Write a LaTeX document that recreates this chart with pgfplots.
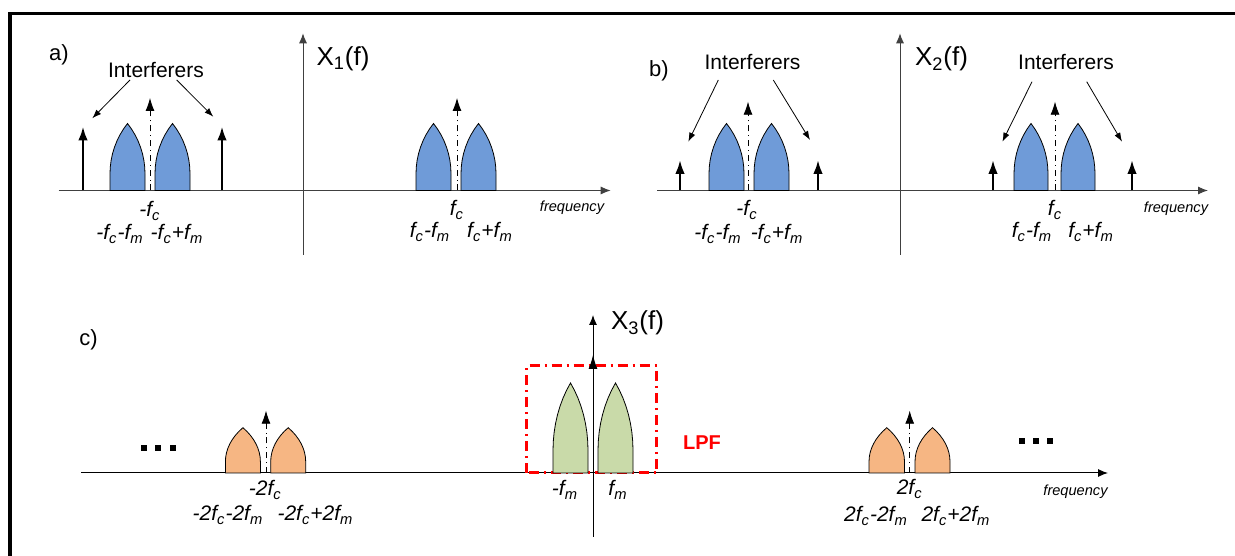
\documentclass[border=0pt]{standalone}
\usepackage{pgfplots}
\pgfplotsset{compat=1.18}
\usepackage{pgfplotstable}
\usepackage{fontspec}
\setmainfont{Liberation Sans}
\usetikzlibrary{arrows.meta}

\definecolor{lobeblue}{HTML}{6F9BD8}
\definecolor{lobeorange}{HTML}{F6B683}
\definecolor{lobegreen}{HTML}{C9DAA9}

% one spectral lobe (bullet shape), width 1, height 1
\pgfplotstableread{
x y
0 0
0 0.25
0.0081 0.3511
0.0324 0.4515
0.0726 0.5504
0.1286 0.6472
0.1999 0.7413
0.2860 0.8319
0.3863 0.9184
0.5 1
0.6137 0.9184
0.7140 0.8319
0.8001 0.7413
0.8714 0.6472
0.9274 0.5504
0.9676 0.4515
0.9919 0.3511
1 0.25
1 0
}\lobeshape

\newcommand{\lab}{\fontsize{10.5}{12}\selectfont}
\newcommand{\lobe}[4]{% colour, left edge, width, height
  \addplot[fill=#1, draw=black, line width=0.4pt]
    table[x expr={#2+#3*\thisrow{x}}, y expr={#4*\thisrow{y}}] {\lobeshape} -- cycle;}
\newcommand{\carrier}[2]{%
  \addplot[black, line width=0.4pt, dash dot, -{Latex[length=6.5pt,width=4.5pt]}]
    coordinates {(#1,0) (#1,#2)};}
\newcommand{\tone}[2]{%
  \addplot[black, line width=1.2pt, -{Latex[length=7pt,width=4.8pt]}]
    coordinates {(#1,0) (#1,#2)};}
\newcommand{\pointer}[4]{%
  \addplot[black, line width=0.4pt, -{Latex[length=4.5pt,width=3.2pt]}]
    coordinates {(#1,#2) (#3,#4)};}

\pgfplotsset{panel/.style={
  x=0.5pt, y=0.5pt, anchor=origin,
  axis lines=middle, ticks=none, clip=false,
  axis line style={line width=0.5pt, -{Latex[length=5pt,width=4pt]}},
}}

\begin{document}
\begin{tikzpicture}
\useasboundingbox (0,0) rectangle (617.5pt,278pt);
\draw[line width=1.6pt] (5pt,0pt) -- (5pt,271.2pt) -- (617.5pt,271.2pt);

% ---------- a)
\begin{axis}[panel, at={(151.5pt,182.75pt)},
  xmin=-244.5, xmax=307.7, ymin=-64.5, ymax=157.2,
  axis line style={black!75}]
\lobe{lobeblue}{-193}{35}{67}
\lobe{lobeblue}{-148}{35}{67}
\lobe{lobeblue}{113}{35}{67}
\lobe{lobeblue}{158}{35}{67}
\carrier{-153}{92.5}
\carrier{154}{92.5}
\tone{-220}{64}
\tone{-81}{64}
\pointer{-173}{110.5}{-210.7}{72.2}
\pointer{-126.3}{110.5}{-89.7}{73.8}
\node[font=\fontsize{11}{13}\selectfont] at (-244,135.5) {a)};
\node[font=\lab] at (-147,120.5) {Interferers};
\node[font=\fontsize{13}{15}\selectfont] at (40,131.5) {X\textsubscript{1}(f)};
\node[font=\lab] at (-153,-20.5) {\textit{-f\textsubscript{c}}};
\node[font=\lab] at (-183,-43.5) {\textit{-f\textsubscript{c}-f\textsubscript{m}}};
\node[font=\lab] at (-126,-43.5) {\textit{-f\textsubscript{c}+f\textsubscript{m}}};
\node[font=\lab] at (154,-19.5) {\textit{f\textsubscript{c}}};
\node[font=\lab] at (127,-41.5) {\textit{f\textsubscript{c}-f\textsubscript{m}}};
\node[font=\lab] at (187,-41.5) {\textit{f\textsubscript{c}+f\textsubscript{m}}};
\node[font=\fontsize{7.3}{9}\selectfont\itshape] at (269,-17.5) {frequency};
\end{axis}

% ---------- b)
\begin{axis}[panel, at={(450pt,182.75pt)},
  xmin=-243, xmax=308, ymin=-64.5, ymax=157.2,
  axis line style={black!75}]
\lobe{lobeblue}{-191}{35}{67}
\lobe{lobeblue}{-146}{35}{67}
\lobe{lobeblue}{114}{34}{67}
\lobe{lobeblue}{161}{34}{67}
\carrier{-152}{88.8}
\carrier{155}{88.8}
\tone{-220}{30.5}
\tone{-82}{30.5}
\tone{93}{30.5}
\tone{232}{30.5}
\pointer{-181.7}{110.5}{-211.7}{48.8}
\pointer{-126.7}{110.5}{-90}{50.5}
\pointer{132}{108.8}{102.4}{48.8}
\pointer{186.7}{108.8}{222}{48.8}
\node[font=\fontsize{11}{13}\selectfont] at (-241,119.5) {b)};
\node[font=\lab] at (-147.5,128.8) {Interferers};
\node[font=\lab] at (166,128.5) {Interferers};
\node[font=\fontsize{13}{15}\selectfont] at (41.5,131.5) {X\textsubscript{2}(f)};
\node[font=\lab] at (-153,-19.5) {\textit{-f\textsubscript{c}}};
\node[font=\lab] at (-182,-43.5) {\textit{-f\textsubscript{c}-f\textsubscript{m}}};
\node[font=\lab] at (-123,-43.5) {\textit{-f\textsubscript{c}+f\textsubscript{m}}};
\node[font=\lab] at (155,-19.5) {\textit{f\textsubscript{c}}};
\node[font=\lab] at (132,-41.5) {\textit{f\textsubscript{c}-f\textsubscript{m}}};
\node[font=\lab] at (191,-41.5) {\textit{f\textsubscript{c}+f\textsubscript{m}}};
\node[font=\fontsize{7.3}{9}\selectfont\itshape] at (276,-18.5) {frequency};
\end{axis}

% ---------- c)
\begin{axis}[panel, at={(296.5pt,41.5pt)},
  xmin=-511.6, xmax=515, ymin=-63.7, ymax=158,
  axis line style={black}]
\addplot[red, line width=1.5pt, dash pattern=on 5pt off 2.5pt on 1pt off 2.5pt]
  coordinates {(-66.3,0) (-66.3,107) (63.7,107) (63.7,0)} -- cycle;
\lobe{lobegreen}{-40}{35}{90}
\lobe{lobegreen}{5}{35}{90}
\lobe{lobeorange}{-367.6}{35}{45.3}
\lobe{lobeorange}{-322.3}{35}{45.3}
\lobe{lobeorange}{276}{35.5}{45.3}
\lobe{lobeorange}{322}{35}{45.3}
\carrier{-327}{62.3}
\carrier{316.7}{62.3}
\addplot[black, line width=0.5pt, -{Latex[length=7pt,width=4.5pt]}]
  coordinates {(0,0) (0,118)};
\addplot[only marks, mark=square*, mark size=1.3pt, black]
  coordinates {(-449,24.7) (-435,24.7) (-420.5,24.7)};
\addplot[only marks, mark=square*, mark size=1.3pt, black]
  coordinates {(429,32.3) (443,32.3) (457,32.3)};
\node[font=\fontsize{11}{13}\selectfont] at (-504.4,133) {c)};
\node[font=\fontsize{13}{15}\selectfont] at (44.5,150) {X\textsubscript{3}(f)};
\node[font=\fontsize{10}{12}\selectfont\bfseries, text=red] at (109,30) {LPF};
\node[font=\lab] at (-28,-17) {\textit{-f\textsubscript{m}}};
\node[font=\lab] at (25,-17) {\textit{f\textsubscript{m}}};
\node[font=\lab] at (-327.6,-17) {\textit{-2f\textsubscript{c}}};
\node[font=\lab] at (-365,-42) {\textit{-2f\textsubscript{c}-2f\textsubscript{m}}};
\node[font=\lab] at (-277.5,-42) {\textit{-2f\textsubscript{c}+2f\textsubscript{m}}};
\node[font=\lab] at (316.7,-16) {\textit{2f\textsubscript{c}}};
\node[font=\lab] at (283,-43) {\textit{2f\textsubscript{c}-2f\textsubscript{m}}};
\node[font=\lab] at (363,-43) {\textit{2f\textsubscript{c}+2f\textsubscript{m}}};
\node[font=\fontsize{7.3}{9}\selectfont\itshape] at (482.5,-18.7) {frequency};
\end{axis}
\end{tikzpicture}
\end{document}
